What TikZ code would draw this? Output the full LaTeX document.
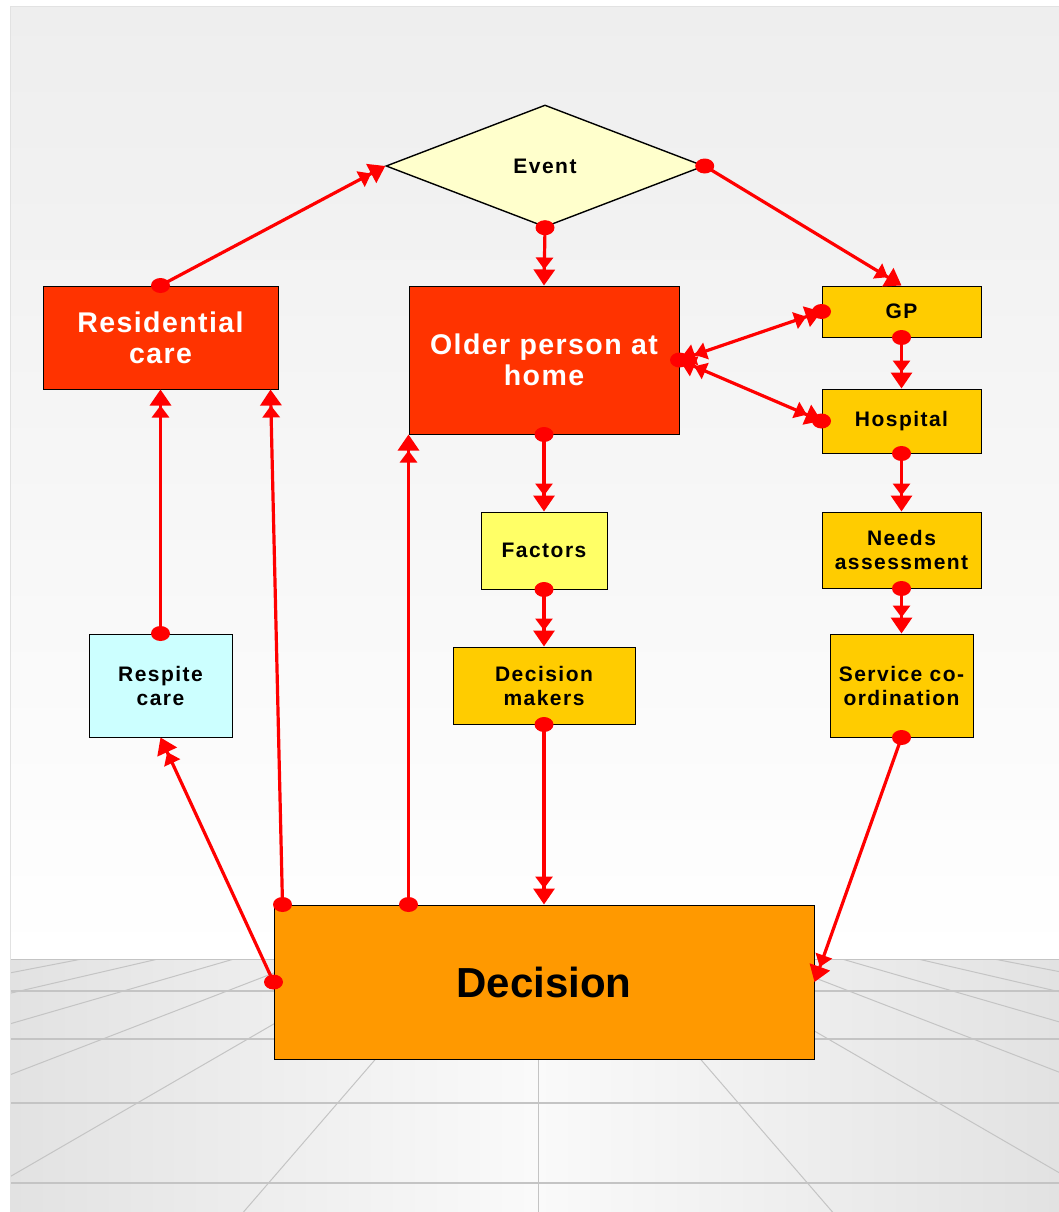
\documentclass[tikz,border=0pt]{standalone}
\usepackage{fontspec}
\setmainfont{Liberation Sans}
\usetikzlibrary{shapes.geometric,arrows.meta,calc}

\definecolor{linkred}{HTML}{FF0000}
\definecolor{hotred}{HTML}{FF3300}
\definecolor{amber}{HTML}{FFCC00}
\definecolor{paleyellow}{HTML}{FFFFCC}
\definecolor{lemon}{HTML}{FFFF66}
\definecolor{paleaqua}{HTML}{CCFFFF}
\definecolor{orange}{HTML}{FF9900}
\definecolor{gridgray}{HTML}{C4C4C4}
\definecolor{wallgray}{HTML}{EEEEEE}
\definecolor{floordark}{HTML}{E2E2E2}
\definecolor{floorlight}{HTML}{FAFAFA}

\newcommand\linkdot[1]{\fill[linkred] (#1) ellipse [x radius=9.5pt, y radius=7.5pt];}

\begin{document}
\begin{tikzpicture}[x=1pt,y=-1pt,
  box/.style={draw=black,line width=1pt,inner sep=0pt,align=center},
  smalltext/.style={font=\fontsize{21}{24}\selectfont\bfseries\addfontfeature{LetterSpace=7}},
  bigtext/.style={font=\fontsize{28.5}{31}\selectfont\bfseries\addfontfeature{LetterSpace=5}},
  tip/.tip={Triangle[length=12pt,width=17pt]Triangle[length=16pt,width=21pt]},
  link/.style={draw=linkred,line width=3.2pt,-tip},
  twoway/.style={draw=linkred,line width=3.2pt,tip-tip},
]
% page and backdrop
\useasboundingbox (0,0) rectangle (1059,1212);
\fill[white] (0,0) rectangle (1059,1212);
\shade[top color=wallgray,bottom color=white] (10,7) rectangle (1059,959);
\shade[left color=floordark,right color=floordark,middle color=floorlight] (10,959) rectangle (1059,1212);
\begin{scope}
  \clip (10,959) rectangle (1059,1212);
  \foreach \k in {-7,...,7}
    \draw[gridgray,line width=1pt] (538+76*\k,959) -- (538+836*\k,1839);
  \foreach \yy in {959,991,1039,1103,1183}
    \draw[gridgray,line width=1.5pt] (10,\yy) -- (1059,\yy);
\end{scope}
\draw[floordark,line width=1pt] (10,7) rectangle (1059,1212);

% nodes
\node[diamond,draw=black,line width=1.4pt,fill=paleyellow,inner sep=0pt,
      minimum width=318pt,minimum height=122pt,smalltext] (event) at (545,166) {Event};
\node[box,fill=hotred,text=white,bigtext,minimum width=235pt,minimum height=103pt] (res) at (160.5,337.5) {Residential\\care};
\node[box,fill=hotred,text=white,bigtext,minimum width=270pt,minimum height=148pt] (old) at (544,360) {Older person at\\home};
\node[box,fill=amber,smalltext,minimum width=159pt,minimum height=51pt] (gp) at (901.5,311.5) {GP};
\node[box,fill=amber,smalltext,minimum width=159pt,minimum height=64pt] (hosp) at (901.5,421) {Hospital};
\node[box,fill=amber,smalltext,minimum width=159pt,minimum height=76pt] (needs) at (901.5,550) {Needs\\assessment};
\node[box,fill=amber,smalltext,minimum width=143pt,minimum height=103pt] (serv) at (901.5,685.5) {Service co-\\ordination};
\node[box,fill=lemon,smalltext,minimum width=126pt,minimum height=77pt] (fac) at (544,550.5) {Factors};
\node[box,fill=amber,smalltext,minimum width=182pt,minimum height=77pt] (dm) at (544,685.5) {Decision\\makers};
\node[box,fill=paleaqua,smalltext,minimum width=143pt,minimum height=103pt] (resp) at (160.5,685.5) {Respite\\care};
\node[box,fill=orange,font=\fontsize{42}{48}\selectfont\bfseries,minimum width=540pt,minimum height=154pt] (dec) at (544,982) {Decision};

% free ends on box edges
\coordinate (decA) at ([xshift=9pt]dec.north west);
\coordinate (decB) at ([xshift=135pt]dec.north west);
\coordinate (resB) at ([xshift=-8pt]res.south east);

% connectors
\draw[link] (res.north) -- (event.west);
\draw[link] (event.south) -- (old.north);
\draw[link] (event.east) -- (gp.north);
\draw[twoway] (old.east) -- (gp.west);
\draw[twoway] (old.east) -- (hosp.west);
\draw[link] (gp.south) -- (hosp.north);
\draw[link] (hosp.south) -- (needs.north);
\draw[link] (needs.south) -- (serv.north);
\draw[link] (serv.south) -- (dec.east);
\draw[link] (old.south) -- (fac.north);
\draw[link] (fac.south) -- (dm.north);
\draw[link] (dm.south) -- (dec.north);
\draw[link] (decB) -- (old.south west);
\draw[link] (decA) -- (resB);
\draw[link] (dec.west) -- (resp.south);
\draw[link] (resp.north) -- (res.south);

% connector start dots
\linkdot{res.north}
\linkdot{event.south}
\linkdot{event.east}
\linkdot{old.east}
\linkdot{gp.west}
\linkdot{hosp.west}
\linkdot{gp.south}
\linkdot{hosp.south}
\linkdot{needs.south}
\linkdot{serv.south}
\linkdot{old.south}
\linkdot{fac.south}
\linkdot{dm.south}
\linkdot{decA}
\linkdot{decB}
\linkdot{dec.west}
\linkdot{resp.north}
\end{tikzpicture}
\end{document}
